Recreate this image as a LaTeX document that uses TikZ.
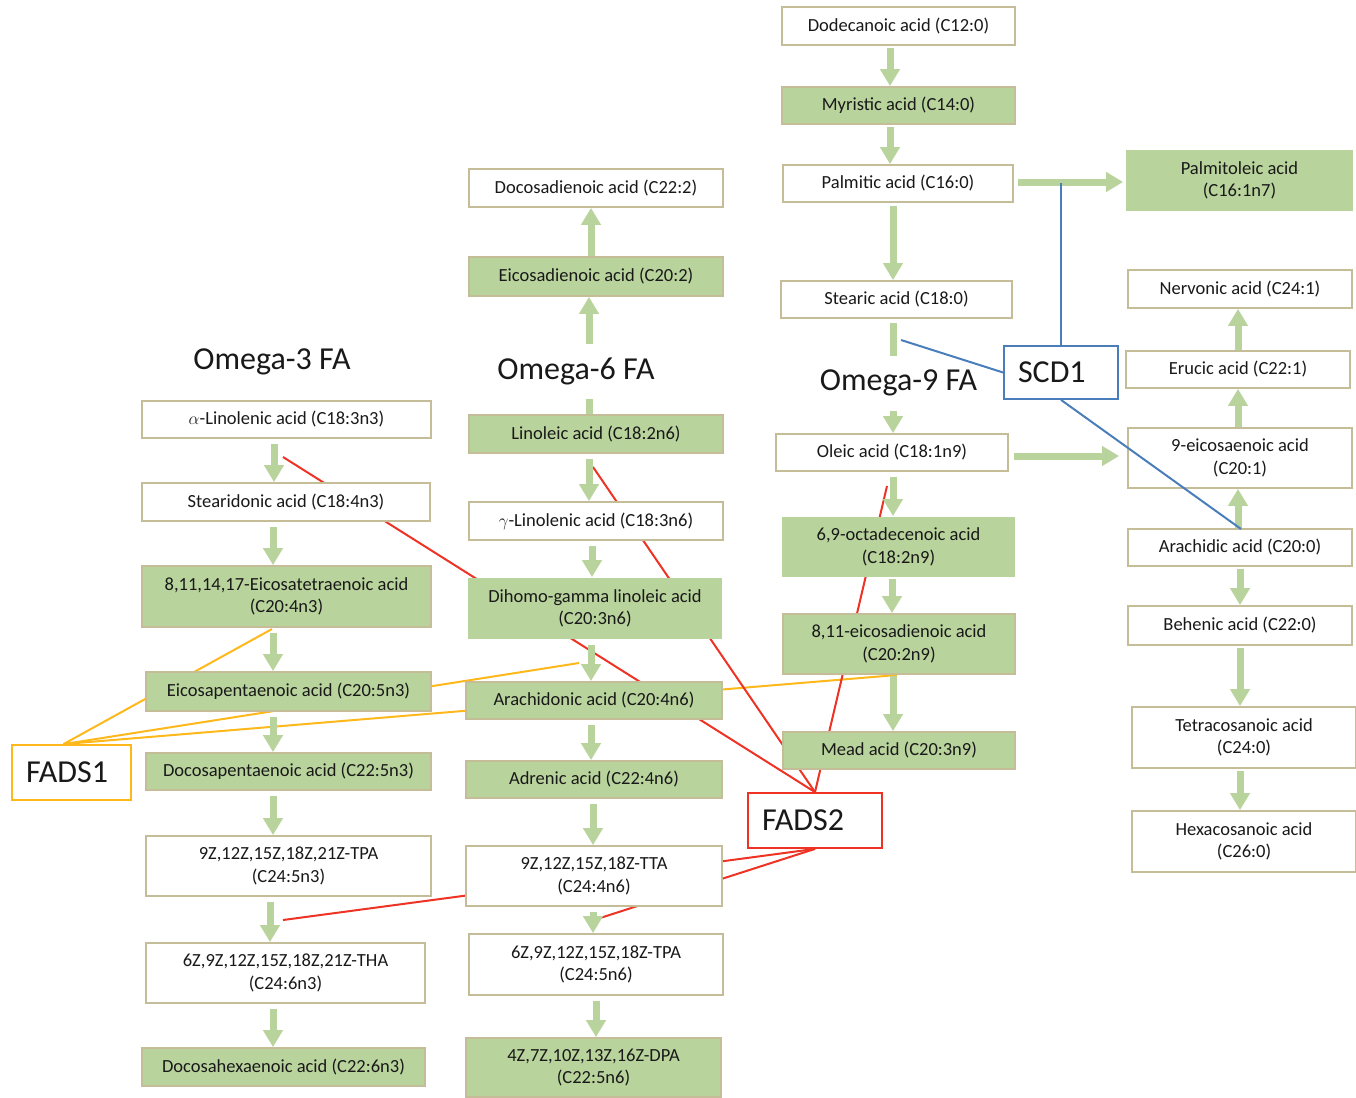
\documentclass[tikz,border=0pt]{standalone}
\usepackage{fontspec}
\setmainfont{Carlito}
\usetikzlibrary{arrows.meta}

\pgfdeclarelayer{bg}
\pgfsetlayers{bg,main}

\definecolor{fagreen}{HTML}{B9D39C}
\definecolor{tanline}{HTML}{C4BD97}
\definecolor{fadsred}{HTML}{EE3224}
\definecolor{fadsorange}{HTML}{FFB81C}
\definecolor{scdblue}{HTML}{4A7EBB}

\newcommand{\acidfont}{\fontsize{18.5}{22.5}\selectfont}
\newcommand{\bigfont}{\fontsize{32}{36}\selectfont}

\tikzset{every picture/.style={line width=1.5pt}}

\begin{document}
\begin{tikzpicture}[x=1pt,y=1pt,yscale=-1,xscale=1,
    acid/.style 2 args={draw=tanline,line width=1.8pt,fill=white,text=black!90,font=\acidfont,
      align=center,inner sep=0pt,minimum width=#1pt,minimum height=#2pt},
    acidg/.style 2 args={acid={#1}{#2},fill=fagreen},
    acidn/.style 2 args={acid={#1}{#2},fill=fagreen,draw=none},
    enzbox/.style 2 args={draw=#1,line width=1.8pt,fill=white,text=black!90,font=\bigfont,
      inner xsep=14pt,inner ysep=0pt,text width=#2pt,align=left,minimum height=55pt},
    title/.style={fill=white,text=black!90,font=\bigfont,inner xsep=4pt,inner ysep=0pt,minimum height=55pt},
    flow/.style={draw=fagreen,line width=7pt,-{Triangle[width=19pt,length=17pt]},shorten <=5pt},
    fadsoneline/.style={draw=fadsorange,line width=2pt},
    fadstwoline/.style={draw=fadsred,line width=2pt},
    scdline/.style={draw=scdblue,line width=2pt}]
    \useasboundingbox (0,0) rectangle (1356,1097);

    % Omega-3 chain
    \node[acid={289}{37}] (a3_1) at (286.5,419.5) {$\alpha$-Linolenic acid (C18:3n3)};
    \node[acid={288}{38}] (a3_2) at (286,502) {Stearidonic acid (C18:4n3)};
    \node[acidg={289}{61}] (a3_3) at (286.5,596.5) {8,11,14,17-Eicosatetraenoic acid\\(C20:4n3)};
    \node[acidg={285}{39}] (a3_4) at (288.5,691.5) {Eicosapentaenoic acid (C20:5n3)};
    \node[acidg={285}{37}] (a3_5) at (288.5,771.5) {Docosapentaenoic acid (C22:5n3)};
    \node[acid={285}{60}] (a3_6) at (288.5,866) {9Z,12Z,15Z,18Z,21Z-TPA\\(C24:5n3)};
    \node[acid={279}{60}] (a3_7) at (285.5,973) {6Z,9Z,12Z,15Z,18Z,21Z-THA\\(C24:6n3)};
    \node[acidg={283}{38}] (a3_8) at (283.5,1067) {Docosahexaenoic acid (C22:6n3)};

    % Omega-6 chain
    \node[acid={254}{38}] (a6_0) at (596,188) {Docosadienoic acid (C22:2)};
    \node[acidg={254}{39}] (a6_1) at (596,276.5) {Eicosadienoic acid (C20:2)};
    \node[acidg={254}{38}] (a6_2) at (596,434) {Linoleic acid (C18:2n6)};
    \node[acid={254}{38}] (a6_3) at (596,521) {$\gamma$-Linolenic acid (C18:3n6)};
    \node[acidn={254}{61}] (a6_4) at (595,608.5) {Dihomo-gamma linoleic acid\\(C20:3n6)};
    \node[acidg={256}{37}] (a6_5) at (594,700.5) {Arachidonic acid (C20:4n6)};
    \node[acidg={256}{37}] (a6_6) at (594,779.5) {Adrenic acid (C22:4n6)};
    \node[acid={256}{60}] (a6_7) at (594,876) {9Z,12Z,15Z,18Z-TTA\\(C24:4n6)};
    \node[acid={254}{61}] (a6_8) at (596,964.5) {6Z,9Z,12Z,15Z,18Z-TPA\\(C24:5n6)};
    \node[acidg={255}{59}] (a6_9) at (593.5,1067.5) {4Z,7Z,10Z,13Z,16Z-DPA\\(C22:5n6)};

    % Omega-9 chain
    \node[acid={233}{38}] (a9_1) at (898.5,26) {Dodecanoic acid (C12:0)};
    \node[acidg={233}{37}] (a9_2) at (898.5,105.5) {Myristic acid (C14:0)};
    \node[acid={230}{37}] (a9_3) at (898,183.5) {Palmitic acid (C16:0)};
    \node[acid={231}{37}] (a9_4) at (896.5,299.5) {Stearic acid (C18:0)};
    \node[acid={232}{37}] (a9_5) at (892,452.5) {Oleic acid (C18:1n9)};
    \node[acidn={233}{60}] (a9_6) at (898.5,547) {6,9-octadecenoic acid\\(C18:2n9)};
    \node[acidg={232}{60}] (a9_7) at (899,644) {8,11-eicosadienoic acid\\(C20:2n9)};
    \node[acidg={232}{37}] (a9_8) at (899,750.5) {Mead acid (C20:3n9)};

    % saturated / monounsaturated side chain
    \node[acidn={227}{61}] (b_1) at (1239.5,180.5) {Palmitoleic acid\\(C16:1n7)};
    \node[acid={224}{38}] (b_2) at (1240,289) {Nervonic acid (C24:1)};
    \node[acid={224}{37}] (b_3) at (1238,369.5) {Erucic acid (C22:1)};
    \node[acid={224}{60}] (b_4) at (1240,458) {9-eicosaenoic acid\\(C20:1)};
    \node[acid={224}{37}] (b_5) at (1240,547.5) {Arachidic acid (C20:0)};
    \node[acid={224}{39}] (b_6) at (1240,625.5) {Behenic acid (C22:0)};
    \node[acid={224}{61}] (b_7) at (1244,737.5) {Tetracosanoic acid\\(C24:0)};
    \node[acid={224}{61}] (b_8) at (1244,841.5) {Hexacosanoic acid\\(C26:0)};

    % enzymes
    \node[enzbox={fadsorange}{91}] (fads1) at (71.5,772.5) {FADS1};
    \node[enzbox={fadsred}{106}] (fads2) at (815,820.5) {FADS2};
    \node[enzbox={scdblue}{86},minimum height=53pt] (scd1) at (1061,372.5) {SCD1};

    % Omega-3 arrows
    \draw[flow] (274,0 |- a3_1.south) -- (274,0 |- a3_2.north);
    \draw[flow] (273,0 |- a3_2.south) -- (273,0 |- a3_3.north);
    \draw[flow] (273,0 |- a3_3.south) -- (273,0 |- a3_4.north);
    \draw[flow] (273,0 |- a3_4.south) -- (273,0 |- a3_5.north);
    \draw[flow] (273,0 |- a3_5.south) -- (273,0 |- a3_6.north);
    \draw[flow] (270,0 |- a3_6.south) -- (270,0 |- a3_7.north);
    \draw[flow] (273,0 |- a3_7.south) -- (273,0 |- a3_8.north);

    % Omega-6 arrows
    \draw[flow,shorten <=0pt] (589,0 |- a6_2.north) -- (589,0 |- a6_1.south);
    \draw[flow,shorten <=0pt] (591,0 |- a6_1.north) -- (591,0 |- a6_0.south);
    \draw[flow] (589,0 |- a6_2.south) -- (589,0 |- a6_3.north);
    \draw[flow] (592,0 |- a6_3.south) -- (592,0 |- a6_4.north);
    \draw[flow] (591,0 |- a6_4.south) -- (591,0 |- a6_5.north);
    \draw[flow] (591,0 |- a6_5.south) -- (591,0 |- a6_6.north);
    \draw[flow] (593,0 |- a6_6.south) -- (593,0 |- a6_7.north);
    \draw[flow] (593,0 |- a6_7.south) -- (593,0 |- a6_8.north);
    \draw[flow] (596,0 |- a6_8.south) -- (596,0 |- a6_9.north);

    % Omega-9 arrows
    \draw[flow,shorten <=2pt] (890,0 |- a9_1.south) -- (890,0 |- a9_2.north);
    \draw[flow,shorten <=2pt] (890,0 |- a9_2.south) -- (890,0 |- a9_3.north);
    \draw[flow,shorten <=3pt] (893,0 |- a9_3.south) -- (893,0 |- a9_4.north);
    \draw[flow,shorten <=4pt] (893,0 |- a9_4.south) -- (893,0 |- a9_5.north);
    \draw[flow] (893,0 |- a9_5.south) -- (893,0 |- a9_6.north);
    \draw[flow,shorten <=1pt] (892,0 |- a9_6.south) -- (892,0 |- a9_7.north);
    \draw[flow,shorten <=1pt] (893,0 |- a9_7.south) -- (893,0 |- a9_8.north);
    \draw[flow,shorten <=4pt,shorten >=2pt] (a9_3.east |- 0,182) -- (b_1.west |- 0,182);
    \draw[flow,shorten >=8pt] (a9_5.east |- 0,456) -- (b_4.west |- 0,456);

    % side chain arrows
    \draw[flow,shorten <=0pt] (1238,0 |- b_5.north) -- (1238,0 |- b_4.south);
    \draw[flow,shorten <=0pt] (1238,0 |- b_4.north) -- (1238,0 |- b_3.south);
    \draw[flow,shorten <=0pt] (1238,0 |- b_3.north) -- (1238,0 |- b_2.south);
    \draw[flow,shorten <=2pt] (1240,0 |- b_5.south) -- (1240,0 |- b_6.north);
    \draw[flow,shorten <=2pt] (1240,0 |- b_6.south) -- (1240,0 |- b_7.north);
    \draw[flow,shorten <=2pt] (1240,0 |- b_7.south) -- (1240,0 |- b_8.north);

    % titles
    \node[title] (t3) at (272,361.5) {Omega-3 FA};
    \node[title] (t6) at (576,371) {Omega-6 FA};
    \node[title] (t9) at (898.5,383) {Omega-9 FA};

    % points on the reaction arrows
    \coordinate (o1) at (272,629);
    \coordinate (o2) at (579,663);
    \coordinate (o3) at (897,675);
    \coordinate (r1) at (283,457);
    \coordinate (r2) at (593,467);
    \coordinate (r3) at (887,486);
    \coordinate (r4) at (283,920);
    \coordinate (r5) at (597,919);
    \coordinate (s1) at (901,340);
    \coordinate (s2) at (1061,183);
    \coordinate (s3) at (1241,529);

    % SCD1 links
    \draw[scdline] (scd1.west) -- (s1);
    \draw[scdline] (scd1.north) -- (s2);
    \draw[scdline] (scd1.south) -- (s3);

    \begin{pgfonlayer}{bg}
    % FADS1 links
    \draw[fadsoneline] ([xshift=-8pt]fads1.north) -- (o1);
    \draw[fadsoneline] ([xshift=-8pt]fads1.north) -- (o2);
    \draw[fadsoneline] ([xshift=-8pt]fads1.north) -- (o3);
    % FADS2 links
    \draw[fadstwoline] (fads2.north) -- (r1);
    \draw[fadstwoline] (fads2.north) -- (r2);
    \draw[fadstwoline] (fads2.north) -- (r3);
    \draw[fadstwoline] (fads2.south) -- (r4);
    \draw[fadstwoline] (fads2.south) -- (r5);
    \end{pgfonlayer}

\end{tikzpicture}
\end{document}
